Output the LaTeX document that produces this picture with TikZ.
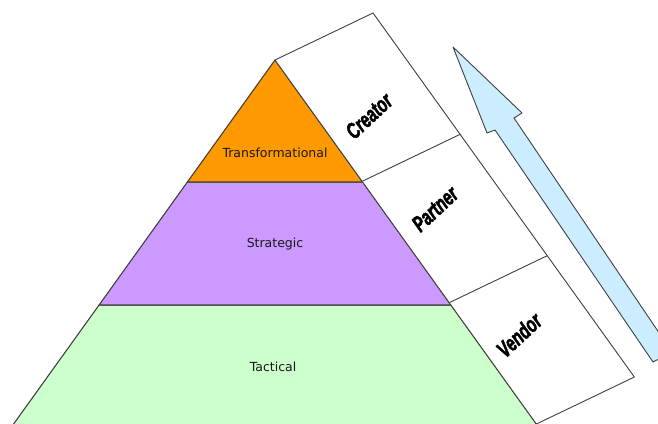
\documentclass[tikz,border=0pt]{standalone}
\usepackage{fontspec}
\usetikzlibrary{calc}
\newfontfamily\labelfont{DejaVu Sans}
\newfontfamily\bannerfont{Liberation Sans}[FakeBold=2.5]
\definecolor{torange}{HTML}{FF9900}
\definecolor{tpurple}{HTML}{CC99FF}
\definecolor{tgreen}{HTML}{CCFFCC}
\definecolor{tblue}{HTML}{CCECFF}
\definecolor{edge}{HTML}{404040}
\newcommand{\rolelabel}[1]{\scalebox{0.85}[1.25]{#1}}
\begin{document}
\begin{tikzpicture}[x=1pt,y=-1pt,line join=round,
  band/.style={draw=edge,line width=1.1pt},
  bannerbox/.style={draw=edge,line width=0.9pt,fill=white},
  arrowshape/.style={draw=edge,line width=0.9pt,fill=tblue},
  level/.style={font=\labelfont\fontsize{12.5}{14}\selectfont,text=black!90,inner sep=0pt},
  role/.style={font=\bannerfont\bfseries\itshape\fontsize{18}{19}\selectfont,rotate=43,inner sep=0pt}]
\useasboundingbox (0,0) rectangle (658,423);
\clip (0,0) rectangle (658,423);
% pyramid
\coordinate (A) at (275,60);
\coordinate (L1) at (187.4,182);
\coordinate (R1) at (362.6,182);
\coordinate (L2) at (99.1,305);
\coordinate (R2) at (450.9,305);
\coordinate (L3) at (9.3,430);
\coordinate (R3) at (540.7,430);
\draw[band,fill=tgreen] (L2) -- (R2) -- (R3) -- (L3) -- cycle;
\draw[band,fill=tpurple] (L1) -- (R1) -- (R2) -- (L2) -- cycle;
\draw[band,fill=torange] (A) -- (R1) -- (L1) -- cycle;
% banner
\coordinate (B0) at (275,60);
\coordinate (B1) at (373,13);
\coordinate (B3) at ($(A)!1.4858!(R2)$);
\coordinate (B2) at ($(B1)+(B3)-(B0)$);
\draw[bannerbox] (B0) -- (B1) -- (B2) -- (B3) -- cycle;
\draw[bannerbox] ($(B0)!1/3!(B3)$) -- ($(B1)!1/3!(B2)$);
\draw[bannerbox] ($(B0)!2/3!(B3)$) -- ($(B1)!2/3!(B2)$);
% arrow
\coordinate (T) at (453,47);
\coordinate (RB) at (522,113);
\coordinate (RN) at (514,118);
\coordinate (RE) at (672,352);
\coordinate (LE) at (653,362);
\coordinate (LN) at (495,130);
\coordinate (LB) at (487,133);
\draw[arrowshape] (T) -- (RB) -- (RN) -- (RE) -- (LE) -- (LN) -- (LB) -- cycle;
% labels
\node[level] (tr) at (275,153) {Transformational};
\node[level] (st) at (275,244) {Strategic};
\node[level] (ta) at (273,367) {Tactical};
\node[role] (cr) at (369,116) {\rolelabel{Creator}};
\node[role] (pa) at (435,209) {\rolelabel{Partner}};
\node[role] (ve) at (519,335) {\rolelabel{Vendor}};
\end{tikzpicture}
\end{document}
